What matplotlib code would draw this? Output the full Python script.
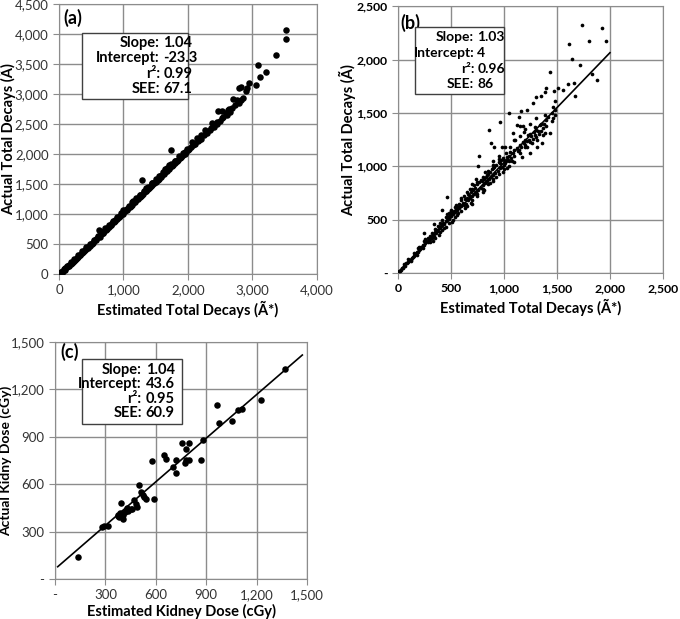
import matplotlib
matplotlib.use("Agg")
import matplotlib.pyplot as plt
import numpy as np
from matplotlib.ticker import FuncFormatter
from matplotlib.patches import Rectangle

plt.rcParams['font.family'] = ['Lato', 'DejaVu Sans']

# ---- (a) estimated vs actual total decays ----
a_x = [15, 30, 45, 60, 80, 100, 120, 140, 160, 180, 200, 225, 250, 275, 300, 325, 350, 375, 400, 425,
       450, 475, 500, 525, 550, 575, 600, 625, 650, 675, 700, 725, 750, 775, 800, 825, 850, 875, 900, 925,
       950, 975, 1000, 1025, 1050, 1075, 1100, 1125, 1150, 1175, 1200, 1225, 1250, 1275, 1300, 1325, 1350,
       1375, 1400, 1425, 1450, 1475, 1500, 1525, 1550, 1575, 1600, 1625, 1650, 1675, 1700, 1725, 1750,
       1775, 1800, 1825, 1850, 1875, 1900, 1925, 1950, 1975, 2000,
       40, 90, 150, 210, 270, 330, 390, 450, 510, 570, 630, 690, 750, 810, 870, 930, 990, 1050, 1110,
       1170, 1230, 1290, 1350, 1410, 1470, 1530, 1590, 1650, 1710, 1770, 1830, 1890, 1950, 2020, 2050,
       2080, 2110, 2150, 2180,
       25, 70, 130, 190, 240, 300, 360, 420, 480, 540, 600, 660, 720, 780, 840, 900, 960, 1020, 1080,
       1140, 1200, 1260, 1320, 1380, 1440, 1500, 1560, 1620, 1680, 1740, 1800, 1860, 1920, 1980,
       620, 1292, 1737, 1000, 1150, 1250, 1350, 1450, 1550, 1650, 1700, 1800, 1880, 1950,
       2100, 2200, 2250, 2300, 2350, 2400, 2450, 2500, 2550, 2600, 2650,
       2057, 2135, 2202, 2264, 2357, 2367, 2445, 2470, 2522, 2522, 2589, 2625, 2640, 2687, 2703, 2729,
       2770, 2786, 2795, 2822, 2822, 2858, 2899, 2925, 2941, 3064, 3090, 3116, 3209, 3364, 3519, 3519]
a_y = [20, 35, 30, 55, 70, 95, 110, 130, 150, 165, 190, 210, 240, 265, 290, 315, 345, 370, 395, 420,
       450, 470, 500, 525, 555, 580, 610, 635, 660, 690, 710, 740, 765, 790, 820, 845, 870, 900, 925, 945,
       975, 1005, 1030, 1050, 1080, 1100, 1125, 1150, 1180, 1205, 1230, 1255, 1280, 1300, 1330, 1360, 1385,
       1410, 1430, 1465, 1490, 1510, 1540, 1565, 1590, 1620, 1650, 1670, 1700, 1720, 1750, 1780, 1800,
       1830, 1850, 1880, 1900, 1930, 1955, 1985, 2005, 2040, 2060,
       25, 75, 135, 200, 255, 320, 380, 440, 505, 565, 625, 690, 755, 815, 880, 945, 1005, 1070, 1135,
       1195, 1260, 1320, 1385, 1450, 1510, 1575, 1635, 1700, 1765, 1825, 1890, 1950, 2010, 2080, 2110,
       2150, 2175, 2210, 2240,
       40, 80, 140, 200, 255, 320, 380, 445, 505, 570, 630, 695, 760, 820, 885, 945, 1010, 1075, 1135,
       1200, 1260, 1320, 1390, 1450, 1510, 1580, 1640, 1700, 1770, 1830, 1890, 1960, 2020, 2080,
       733, 1567, 2067, 1060, 1210, 1310, 1430, 1520, 1640, 1750, 1810, 1880, 1950, 2030,
       2160, 2250, 2320, 2350, 2400, 2450, 2500, 2550, 2620, 2650, 2700,
       2206, 2261, 2317, 2400, 2428, 2511, 2539, 2722, 2717, 2595, 2678, 2733, 2745, 2761, 2917, 2817,
       2900, 3094, 2856, 3111, 2900, 2928, 3055, 3094, 3178, 3150, 3478, 3278, 3361, 3650, 4067, 3911]

# ---- (b) estimated vs actual total decays ----
b_x = [10, 20, 30, 40, 50, 60, 70, 80, 90, 100, 110, 120, 130, 140, 150, 160, 170, 180, 190, 200,
       210, 220, 230, 240, 250, 260, 270, 280, 290, 300,
       60, 100, 150, 200, 250, 120, 180, 240, 300, 260, 280, 187, 250,
       310, 320, 330, 340, 350, 360, 370, 380, 390, 400, 410, 420, 430, 440, 450, 460, 470, 480, 490, 500,
       510, 520, 530, 540, 550, 560, 570, 580, 590, 600,
       320, 350, 380, 400, 420, 440, 460, 480, 500, 520, 540, 560, 580, 600, 421, 468, 343,
       610, 620, 630, 640, 650, 660, 670, 680, 690, 700, 710, 720, 730, 740, 750, 760, 770, 780, 790, 800,
       810, 820, 830, 840, 850, 860, 870, 880, 890, 900, 910, 920, 930, 940, 950, 960, 970, 980, 990, 1000,
       650, 700, 750, 800, 850, 900, 950, 1000, 1030, 1050, 1080, 1100,
       620, 680, 700, 740, 765, 760, 858, 874, 905, 967, 983, 1014, 820, 900, 950,
       330, 360, 390, 420, 450, 480, 510, 540, 570, 600, 630, 660, 690, 720, 750, 780, 810, 840, 870, 900,
       930, 960, 990, 1020, 650, 700, 750, 800, 850, 900, 950, 600, 550, 500, 450, 400, 350, 300, 700,
       800, 900, 1000, 1050, 1100, 1150, 1200, 1250, 1300, 1350, 1400, 1450, 1150, 1200, 1250, 1300,
       1180, 1220, 1270, 1330, 1380,
       1030, 1052, 1061, 1086, 1108, 1124, 1139, 1139, 1148, 1161, 1170, 1186, 1202, 1217, 1233, 1248,
       1264, 1273, 1295, 1305, 1311, 1311, 1342, 1348, 1358, 1373, 1373, 1389, 1389, 1389, 1398, 1436,
       1436, 1467, 1473, 1482, 1482, 1513,
       1020, 1050, 1070, 1100, 1120, 1150, 1180, 1200, 1230, 1250, 1280, 1300, 1040, 1090, 1130, 1160,
       1190, 1220, 1260, 1290, 1320, 1350, 1400, 1420, 1450, 1460, 1480, 1010, 1060, 1100,
       1560, 1608, 1617, 1638, 1663, 1670, 1717, 1732, 1801, 1835, 1882, 1926, 1966]
b_y = [15, 20, 30, 45, 50, 65, 70, 90, 95, 105, 120, 125, 140, 150, 160, 175, 180, 195, 200, 215,
       225, 240, 240, 260, 265, 280, 300, 290, 310, 320,
       80, 130, 190, 240, 300, 110, 170, 230, 290, 320, 330, 231, 371,
       340, 330, 360, 350, 380, 370, 400, 390, 430, 420, 440, 450, 470, 460, 490, 500, 520, 510, 540, 530,
       560, 550, 580, 570, 600, 590, 620, 610, 640, 630,
       370, 330, 440, 380, 500, 420, 550, 470, 590, 500, 620, 540, 650, 580, 590, 715, 459,
       660, 640, 690, 650, 700, 680, 730, 700, 760, 720, 780, 740, 800, 760, 830, 780, 850, 800, 860, 820,
       880, 840, 900, 860, 930, 880, 950, 900, 970, 920, 990, 940, 1010, 960, 1040, 980, 1060, 990, 1080, 1010,
       630, 680, 740, 790, 830, 880, 930, 970, 980, 1000, 1050, 1040,
       720, 790, 830, 880, 1096, 1000, 1339, 1214, 1183, 1417, 1183, 1183, 950, 1050, 1100,
       300, 400, 360, 400, 430, 560, 480, 520, 560, 680, 610, 740, 660, 820, 720, 870, 780, 920, 840, 980,
       900, 1030, 950, 1120, 760, 790, 850, 900, 960, 1010, 1070, 700, 640, 580, 520, 470, 410, 350, 650,
       760, 860, 1060, 1050, 1100, 1120, 1200, 1230, 1270, 1330, 1380, 1420, 1280, 1350, 1400, 1450,
       1380, 1180, 1260, 1300, 1400,
       1089, 1501, 1136, 1308, 1245, 1386, 1464, 1152, 1376, 1520, 1089, 1323, 1183, 1526, 1245, 1120,
       1214, 1589, 1370, 1651, 1183, 1245, 1385, 1657, 1214, 1354, 1292, 1479, 1308, 1698, 1735, 1885,
       1308, 1448, 1707, 1610, 1526, 1729,
       1050, 1100, 1080, 1150, 1170, 1200, 1230, 1250, 1290, 1300, 1320, 1340, 1060, 1120, 1140, 1180,
       1220, 1240, 1280, 1290, 1330, 1400, 1430, 1460, 1500, 1560, 1480, 1030, 1180, 1250,
       1713, 1767, 2150, 2001, 1776, 1660, 1947, 2328, 2175, 1869, 1807, 2291, 2175]
b_trend = (1.03, 4)          # slope, intercept of the drawn trendline
b_trend_x = [0, 2000]

# ---- (c) estimated vs actual kidney dose ----
c_x = [139, 282, 294, 313, 391, 377, 387, 397, 407, 417, 427, 460, 472, 480, 486, 500, 512, 526, 531,
       540, 591, 579, 646, 660, 705, 719, 721, 771, 779, 795, 758, 778, 800, 868, 880, 962, 978, 1052,
       1091, 1115, 1226, 1369, 372, 383, 405, 437, 452]
c_y = [141, 327, 335, 335, 483, 405, 416, 394, 378, 426, 447, 441, 500, 475, 454, 595, 553, 532, 516,
       504, 506, 749, 783, 760, 708, 751, 671, 734, 751, 751, 863, 821, 863, 751, 882, 1101, 989, 1002,
       1070, 1076, 1133, 1329, 400, 390, 405, 432, 445]
c_trend = (0.92, 63)         # trendline as drawn in the figure
c_trend_x = [16, 1472]

stats_labels = ['Slope:', 'Intercept:', 'r\u00b2:', 'SEE:']
stats_a = ['1.04', '-23.3', '0.99', '67.1']
stats_b = ['1.03', '4', '0.96', '86']
stats_c = ['1.04', '43.6', '0.95', '60.9']

fig = plt.figure(figsize=(6.8, 6.19), dpi=100)
ax_a = fig.add_axes([0.0868, 0.5573, 0.379, 0.436])
ax_b = fig.add_axes([0.585, 0.559, 0.39, 0.431])
ax_c = fig.add_axes([0.0809, 0.0646, 0.3706, 0.383])

grid_col = '#8c8c8c'


def fmt(dash_zero):
    def f(v, pos):
        if abs(v) < 1e-9 and dash_zero:
            return '-'
        return f'{v:,.0f}'
    return FuncFormatter(f)


def style(ax, xmax, xstep, ymax, ystep, xdash, ydash, bold_ticks):
    ax.set_xlim(0, xmax)
    ax.set_ylim(0, ymax)
    ax.set_xticks(np.arange(0, xmax + 1, xstep))
    ax.set_yticks(np.arange(0, ymax + 1, ystep))
    ax.xaxis.set_major_formatter(fmt(xdash))
    ax.yaxis.set_major_formatter(fmt(ydash))
    ax.grid(True, color=grid_col, linewidth=1)
    ax.set_axisbelow(True)
    for s in ax.spines.values():
        s.set_color(grid_col)
    if bold_ticks:
        ax.tick_params(colors=grid_col, length=4, labelsize=8.8, labelcolor='black')
        for t in ax.get_xticklabels() + ax.get_yticklabels():
            t.set_fontweight('bold')
    else:
        ax.tick_params(colors=grid_col, length=4, labelsize=9.5, labelcolor='#333333')


def labels(ax, xl, yl, xy_y, yl_x, fs=10.5):
    ax.set_xlabel(xl, fontsize=10.5, fontweight='bold', va='center')
    ax.set_ylabel(yl, fontsize=fs, fontweight='bold', va='center')
    ax.xaxis.set_label_coords(0.5, xy_y)
    ax.yaxis.set_label_coords(yl_x, 0.5)


def stats_box(ax, box, colon_x, val_x, rows, values, fs):
    x0, x1, yb, yt = box
    ax.add_patch(Rectangle((x0, yb), x1 - x0, yt - yb, transform=ax.transAxes,
                           facecolor='white', edgecolor='#404040', linewidth=1, zorder=5))
    for lab, val, y in zip(stats_labels, values, rows):
        ax.text(colon_x, y, lab, transform=ax.transAxes, ha='right', va='center',
                fontsize=fs, fontweight='bold', zorder=6)
        ax.text(val_x, y, val, transform=ax.transAxes, ha='left', va='center',
                fontsize=fs, fontweight='bold', zorder=6)


# (a)
ax_a.scatter(a_x, a_y, s=22, color='black', linewidths=0, zorder=3)
style(ax_a, 4000, 1000, 4500, 500, False, False, False)
labels(ax_a, 'Estimated Total Decays (\u00c3*)', 'Actual Total Decays (\u00c3)', -0.13, -0.2)
ax_a.text(0.016, 0.95, '(a)', transform=ax_a.transAxes, fontsize=13, fontweight='bold', va='center')
stats_box(ax_a, (0.089, 0.5, 0.648, 0.893), 0.391, 0.405, [0.856, 0.8, 0.741, 0.685], stats_a, 10.5)

# (b)
ax_b.scatter(b_x, b_y, s=7, color='black', linewidths=0, zorder=3)
bx = np.array(b_trend_x)
ax_b.plot(bx, b_trend[0] * bx + b_trend[1], color='black', linewidth=1.2, zorder=4)
style(ax_b, 2500, 500, 2500, 500, False, True, True)
labels(ax_b, 'Estimated Total Decays (\u00c3*)', 'Actual Total Decays (\u00c3)', -0.131, -0.19)
ax_b.text(0.011, 0.938, '(b)', transform=ax_b.transAxes, fontsize=13, fontweight='bold', va='center')
stats_box(ax_b, (0.064, 0.401, 0.670, 0.921), 0.288, 0.3, [0.885, 0.823, 0.764, 0.710], stats_b, 10)

# (c)
ax_c.scatter(c_x, c_y, s=22, color='black', linewidths=0, zorder=3)
cx = np.array(c_trend_x)
ax_c.plot(cx, c_trend[0] * cx + c_trend[1], color='black', linewidth=1.2, zorder=4)
style(ax_c, 1500, 300, 1500, 300, True, True, False)
labels(ax_c, 'Estimated Kidney Dose (cGy)', 'Actual Kidny Dose (cGy)', -0.139, -0.196, fs=10)
ax_c.text(0.02, 0.958, '(c)', transform=ax_c.transAxes, fontsize=13, fontweight='bold', va='center')
stats_box(ax_c, (0.108, 0.503, 0.654, 0.927), 0.344, 0.36, [0.882, 0.823, 0.759, 0.699], stats_c, 10.5)

fig.savefig('out.png', dpi=100)
